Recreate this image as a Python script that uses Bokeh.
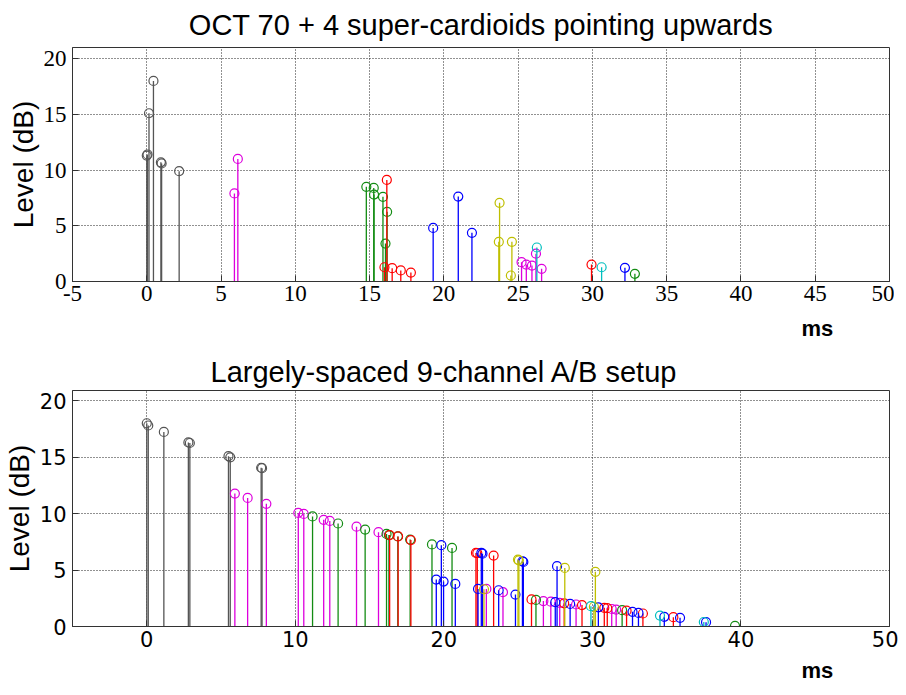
from bokeh.plotting import figure
from bokeh.models import Range1d, LinearAxis, FixedTicker, Title, Grid
from bokeh.layouts import column
from bokeh.embed import file_html
from bokeh.resources import INLINE

# ---------------- data: top chart (OCT 70 + 4 super-cardioids) ----------------
top_black_ms = [0.0, 0.05, 0.15, 0.45, 0.95, 1.0, 2.18]
top_black_db = [11.3, 11.4, 15.1, 18.0, 10.7, 10.6, 9.9]
top_magenta_ms = [5.9, 6.13, 25.23, 25.55, 25.93, 26.2, 26.58]
top_magenta_db = [7.9, 11.0, 1.73, 1.52, 1.43, 2.5, 1.14]
top_green_ms = [14.78, 15.28, 15.3, 15.9, 16.18, 16.07, 32.86]
top_green_db = [8.5, 8.4, 7.8, 7.6, 6.25, 3.4, 0.69]
top_red_ms = [16.16, 16.0, 16.52, 17.1, 17.78, 29.94]
top_red_db = [9.12, 1.28, 1.2, 0.99, 0.8, 1.52]
top_blue_ms = [19.28, 20.97, 21.89, 32.19]
top_blue_db = [4.81, 7.62, 4.37, 1.23]
top_yellow_ms = [23.7, 23.75, 24.58, 24.51]
top_yellow_db = [3.56, 7.06, 3.56, 0.54]
top_cyan_ms = [26.26, 30.62]
top_cyan_db = [3.05, 1.28]

# ---------------- data: bottom chart (9-channel A/B) ----------------
bot_black_ms = [0.0, 0.1, 1.15, 2.8, 2.9, 5.5, 5.62, 7.7, 7.76]
bot_black_db = [18.0, 17.8, 17.23, 16.3, 16.25, 15.08, 14.98, 14.06, 14.02]
bot_magenta_ms = [5.93, 6.79, 8.05, 10.2, 10.57, 11.91, 12.32, 14.12, 15.6,
                  22.86, 23.98, 26.7, 27.2, 27.8, 28.9, 31.3, 31.6]
bot_magenta_db = [11.77, 11.39, 10.86, 10.06, 9.97, 9.45, 9.35, 8.84, 8.35,
                  3.33, 3.04, 2.25, 2.2, 2.1, 1.95, 1.55, 1.5]
bot_green_ms = [11.16, 12.88, 14.7, 16.14, 16.3, 16.9, 17.73, 19.2, 20.55,
                26.2, 32.0, 39.6]
bot_green_db = [9.75, 9.12, 8.58, 8.2, 8.1, 7.98, 7.7, 7.27, 6.96,
                2.35, 1.45, 0.05]
bot_red_ms = [16.35, 16.92, 17.78, 22.16, 22.25, 23.35, 25.9, 28.1, 29.3,
              30.8, 31.0, 32.3, 33.4, 35.45]
bot_red_db = [8.1, 7.98, 7.65, 6.52, 6.5, 6.28, 2.4, 2.05, 1.9,
              1.65, 1.62, 1.4, 1.15, 0.83]
bot_blue_ms = [19.83, 19.49, 19.98, 20.77, 22.52, 22.6, 22.3, 23.69, 24.82,
               25.29, 25.35, 27.62, 27.5, 28.5, 30.4, 32.7, 33.1, 34.84,
               35.9, 37.65]
bot_blue_db = [7.2, 4.16, 3.98, 3.77, 6.52, 6.45, 3.33, 3.21, 2.83,
               5.78, 5.72, 5.34, 2.15, 2.0, 1.7, 1.3, 1.2, 0.86,
               0.77, 0.38]
bot_yellow_ms = [22.7, 24.99, 25.05, 28.14, 30.2, 30.1]
bot_yellow_db = [3.3, 5.93, 5.85, 5.19, 4.84, 1.75]
bot_cyan_ms = [29.9, 34.55, 37.5]
bot_cyan_db = [1.8, 0.97, 0.4]

x_ticks_top = [-5, 0, 5, 10, 15, 20, 25, 30, 35, 40, 45, 50]
x_ticks_bot = [0, 10, 20, 30, 40, 50]
y_ticks = [0, 5, 10, 15, 20]

COLORS = {
    "black": "#555555",
    "magenta": "#dd00dd",
    "green": "#138c13",
    "red": "#ff0000",
    "blue": "#0000ff",
    "yellow": "#bfbf00",
    "cyan": "#00bfbf",
}

top_series = [
    ("black", top_black_ms, top_black_db),
    ("magenta", top_magenta_ms, top_magenta_db),
    ("green", top_green_ms, top_green_db),
    ("red", top_red_ms, top_red_db),
    ("blue", top_blue_ms, top_blue_db),
    ("yellow", top_yellow_ms, top_yellow_db),
    ("cyan", top_cyan_ms, top_cyan_db),
]
bot_series = [
    ("black", bot_black_ms, bot_black_db),
    ("magenta", bot_magenta_ms, bot_magenta_db),
    ("green", bot_green_ms, bot_green_db),
    ("red", bot_red_ms, bot_red_db),
    ("blue", bot_blue_ms, bot_blue_db),
    ("yellow", bot_yellow_ms, bot_yellow_db),
    ("cyan", bot_cyan_ms, bot_cyan_db),
]

FW = 817


def make_fig(title, title_align, title_offset, title_standoff, series, xticks,
             tick_font, tick_size, frame_h, ms_standoff, ylim):
    p = figure(frame_width=FW, frame_height=frame_h, output_backend="svg",
               toolbar_location=None, x_range=Range1d(-5, 50),
               y_range=Range1d(0, ylim), min_border_left=64,
               min_border_right=9, min_border_top=0, min_border_bottom=0,
               x_axis_type=None, y_axis_type=None)
    p.outline_line_color = "#333333"
    p.outline_line_width = 1
    p.background_fill_color = "white"
    p.border_fill_color = "white"

    xt = FixedTicker(ticks=xticks)
    yt = FixedTicker(ticks=y_ticks)

    def base_axis(ax):
        ax.major_tick_in = 6
        ax.major_tick_out = 0
        ax.minor_tick_line_color = None
        ax.axis_line_color = "#333333"
        ax.major_tick_line_color = "#333333"
        ax.major_label_text_font = tick_font
        ax.major_label_text_font_size = tick_size
        ax.major_label_text_color = "black"

    xb = LinearAxis(ticker=xt)
    base_axis(xb)
    xb.major_label_standoff = 4
    xb.major_label_overrides = {-5: "-5"}
    p.add_layout(xb, "below")

    yl = LinearAxis(ticker=yt)
    base_axis(yl)
    yl.major_label_standoff = 6
    yl.axis_label = "Level (dB)"
    yl.axis_label_text_font = "Liberation Sans"
    yl.axis_label_text_font_size = "28px"
    yl.axis_label_text_font_style = "normal"
    yl.axis_label_text_color = "black"
    yl.axis_label_standoff = 2
    p.add_layout(yl, "left")

    p.add_layout(Grid(dimension=0, ticker=xt, grid_line_color="#222222",
                      grid_line_dash="1 2", grid_line_width=1))
    p.add_layout(Grid(dimension=1, ticker=yt, grid_line_color="#222222",
                      grid_line_dash="1 2", grid_line_width=1))

    for name, xs, ys in series:
        c = COLORS[name]
        p.segment(x0=xs, y0=[0] * len(xs), x1=xs, y1=ys, line_color=c,
                  line_width=1.3)
        p.scatter(x=xs, y=ys, marker="circle", size=9, fill_color=None,
                  line_color=c, line_width=1.2)

    t = Title(text=title, align=title_align, offset=title_offset,
              text_font="Liberation Sans", text_font_size="29px",
              text_font_style="normal", text_color="black",
              standoff=title_standoff)
    p.add_layout(t, "above")

    ms = Title(text="ms", align="left", offset=729,
               text_font="Liberation Sans", text_font_size="22px",
               text_font_style="bold", text_color="black",
               standoff=ms_standoff)
    p.add_layout(ms, "below")
    return p


p1 = make_fig("OCT 70 + 4 super-cardioids pointing upwards", "center", 0, 13,
              top_series, x_ticks_top, "Liberation Serif", "23px",
              234, 21, 21)
p2 = make_fig("Largely-spaced 9-channel A/B setup", "left", 138, 5,
              bot_series, x_ticks_bot, "DejaVu Sans", "21px",
              236, 12, 20.9)

layout = column(p1, p2, spacing=0)
open("out.html", "w").write(file_html(layout, INLINE))
